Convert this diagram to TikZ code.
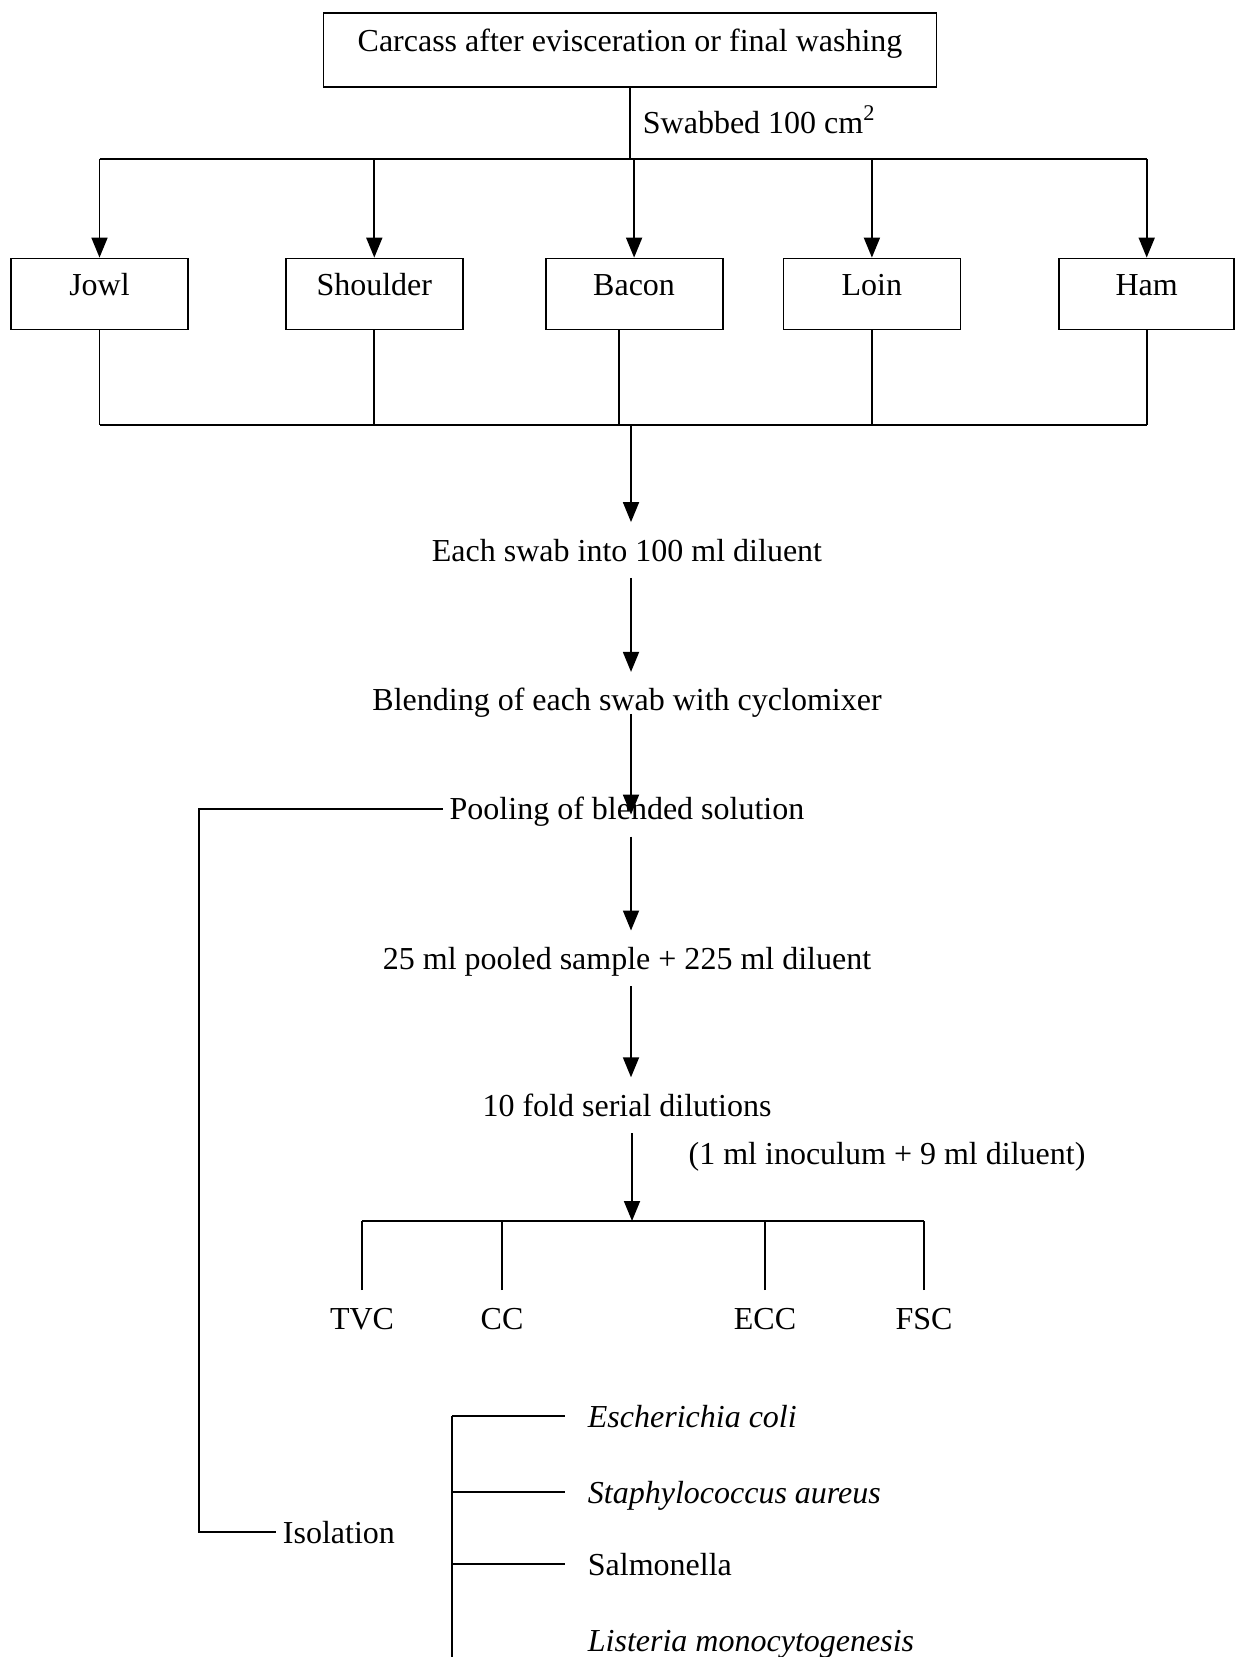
\documentclass[tikz,border=0pt]{standalone}
\usepackage{fontspec}
\setmainfont{Liberation Serif}
\usetikzlibrary{arrows.meta,positioning}

\tikzset{
  box/.style={draw, inner sep=0pt, text height=11pt, text depth=9pt,
    minimum width=88.5pt, minimum height=35.5pt},
  txt/.style={inner xsep=3pt, inner ysep=8pt, text height=11pt, text depth=0pt},
  arr/.style={-{Triangle[length=10pt,width=8pt]}},
}

\begin{document}
\begin{tikzpicture}[x=0.5pt, y=-0.5pt, line width=0.9pt, font=\fontsize{16}{19}\selectfont]
  \useasboundingbox (0,0) rectangle (1245,1657);

  % carcass and the five cuts
  \node[box, minimum width=306.5pt, minimum height=37pt] (carcass) at (630,50) {Carcass after evisceration or final washing};
  \node[box] (jowl) at (99.5,294) {Jowl};
  \node[box, right=48pt of jowl]     (shoulder) {Shoulder};
  \node[box, right=40.5pt of shoulder] (bacon) {Bacon};
  \node[box, right=29.5pt of bacon]  (loin) {Loin};
  \node[box, right=48.5pt of loin, minimum width=87.5pt] (ham) {Ham};

  \coordinate (tbus) at (630,159);
  \coordinate (bbus) at (631,425);
  \draw (carcass.south) -- (carcass.south |- tbus)
    node[pos=0.45, right, inner xsep=6pt] {Swabbed 100 cm\textsuperscript{2}};
  \draw (jowl.north |- tbus) -- (ham.north |- tbus);
  \foreach \n in {jowl,shoulder,bacon,loin,ham}
    \draw[arr] (\n.north |- tbus) -- (\n.north);
  \foreach \n in {jowl,shoulder,loin,ham}
    \draw (\n.south) -- (\n.south |- bbus);
  \draw ([xshift=-7.5pt]bacon.south) -- ([xshift=-7.5pt]bacon.south |- bbus);
  \draw (jowl.south |- bbus) -- (ham.south |- bbus);

  % processing chain
  \node[txt] (each) at (627,550) {Each swab into 100 ml diluent};
  \node[txt, below=47pt of each]    (blend) {Blending of each swab with cyclomixer};
  \node[txt, below=26.5pt of blend] (pool) {Pooling of blended solution};
  \node[txt, below=47pt of pool]    (sample) {25 ml pooled sample + 225 ml diluent};
  \node[txt, below=45.5pt of sample] (serial) {10 fold serial dilutions};
  \node[txt] (inoc) at (887,1153) {(1 ml inoculum + 9 ml diluent)};

  \draw[arr] (bbus) -- (each.north -| bbus);
  \draw[arr] (each.south -| bbus) -- (blend.north -| bbus);
  \draw[arr] ([yshift=-7pt]blend.center -| bbus) -- ([yshift=-3pt]pool.center -| bbus);
  \draw[arr] (pool.south -| bbus) -- (sample.north -| bbus);
  \draw[arr] (sample.south -| bbus) -- (serial.north -| bbus);

  % counts
  \coordinate (dbus) at (632,1221);
  \draw[arr] (serial.south -| dbus) -- (dbus);
  \foreach \x/\n/\t in {362/tvc/TVC, 502/cc/CC, 765/ecc/ECC, 924/fsc/FSC}{
    \node[txt] (\n) at (\x,1318) {\t};
    \draw (\n.north) -- (\n.north |- dbus);
  }
  \draw (tvc.north |- dbus) -- (fsc.north |- dbus);

  % isolation
  \node[txt, anchor=west] (iso) at (276,1532) {Isolation};
  \draw (pool.west) -| ([xshift=-38.5pt]iso.west) -- (iso.west);

  \node[txt, anchor=west] (ecoli) at (581,1416) {\textit{Escherichia coli}};
  \node[txt, anchor=west] (staph) at (581,1492) {\textit{Staphylococcus aureus}};
  \node[txt, anchor=west] (salm)  at (581,1564) {Salmonella};
  \node[txt, anchor=west] (list)  at (581,1640) {\textit{Listeria monocytogenesis}};

  \coordinate (stop) at (452,1416);
  \coordinate (sbot) at (452,1657);
  \draw (stop) -- (sbot);
  \foreach \n in {ecoli,staph,salm}
    \draw (stop |- \n.west) -- ([xshift=-8pt]\n.west);
\end{tikzpicture}
\end{document}
